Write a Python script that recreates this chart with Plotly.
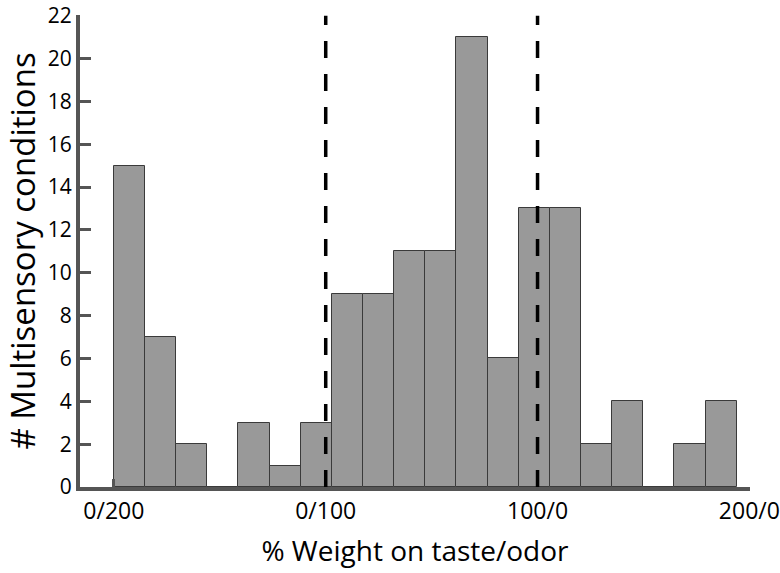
import plotly.graph_objects as go

# Data
counts = [15, 7, 2, 0, 3, 1, 3, 9, 9, 11, 11, 21, 6, 13, 13, 2, 4, 0, 2, 4]
bin_start = -1.0
bin_width = 0.147
tick_vals = [-1, 0, 1, 2]
tick_text = ["0/200", "0/100", "100/0", "200/0"]
ref_lines = [0, 1]
y_ticks = list(range(0, 23, 2))

centers = [bin_start + (i + 0.5) * bin_width for i in range(len(counts))]

FONT = "Open Sans"
AXC = "#555555"

fig = go.Figure()
fig.add_trace(go.Bar(
    x=centers, y=counts, width=[bin_width] * len(counts),
    marker=dict(color="#999999", line=dict(color="#3a3a3a", width=1)),
    showlegend=False, hoverinfo="skip",
))

for xv in ref_lines:
    fig.add_shape(type="line", xref="x", yref="y", x0=xv, x1=xv, y0=0, y1=22,
                  line=dict(color="black", width=3.5, dash="17px,16px"), layer="above")

fig.update_layout(
    width=780, height=573,
    margin=dict(l=80, r=30, t=15, b=86, autoexpand=False),
    plot_bgcolor="white", paper_bgcolor="white",
    bargap=0,
    font=dict(family=FONT, color="black"),
)
fig.update_xaxes(
    range=[-1.16, 2.003], tickvals=tick_vals, ticktext=tick_text,
    showline=True, linecolor=AXC, linewidth=4,
    ticks="inside", ticklen=8, tickwidth=3, tickcolor=AXC,
    showgrid=False, zeroline=False, ticklabeloverflow="allow",
    tickfont=dict(size=23, family=FONT),
    title=dict(text="% Weight on taste/odor", font=dict(size=28, family=FONT), standoff=18),
)
fig.update_yaxes(
    range=[0, 22.03], tickvals=y_ticks,
    showline=True, linecolor=AXC, linewidth=4,
    ticks="inside", ticklen=11, tickwidth=3, tickcolor=AXC,
    showgrid=False, zeroline=False, ticklabeloverflow="allow",
    tickfont=dict(size=21, family=FONT),
    title=dict(text="# Multisensory conditions", font=dict(size=33, family=FONT), standoff=8),
)

fig.write_html("out.html", config={"displayModeBar": False},
               post_script="document.body.style.margin='0';")
